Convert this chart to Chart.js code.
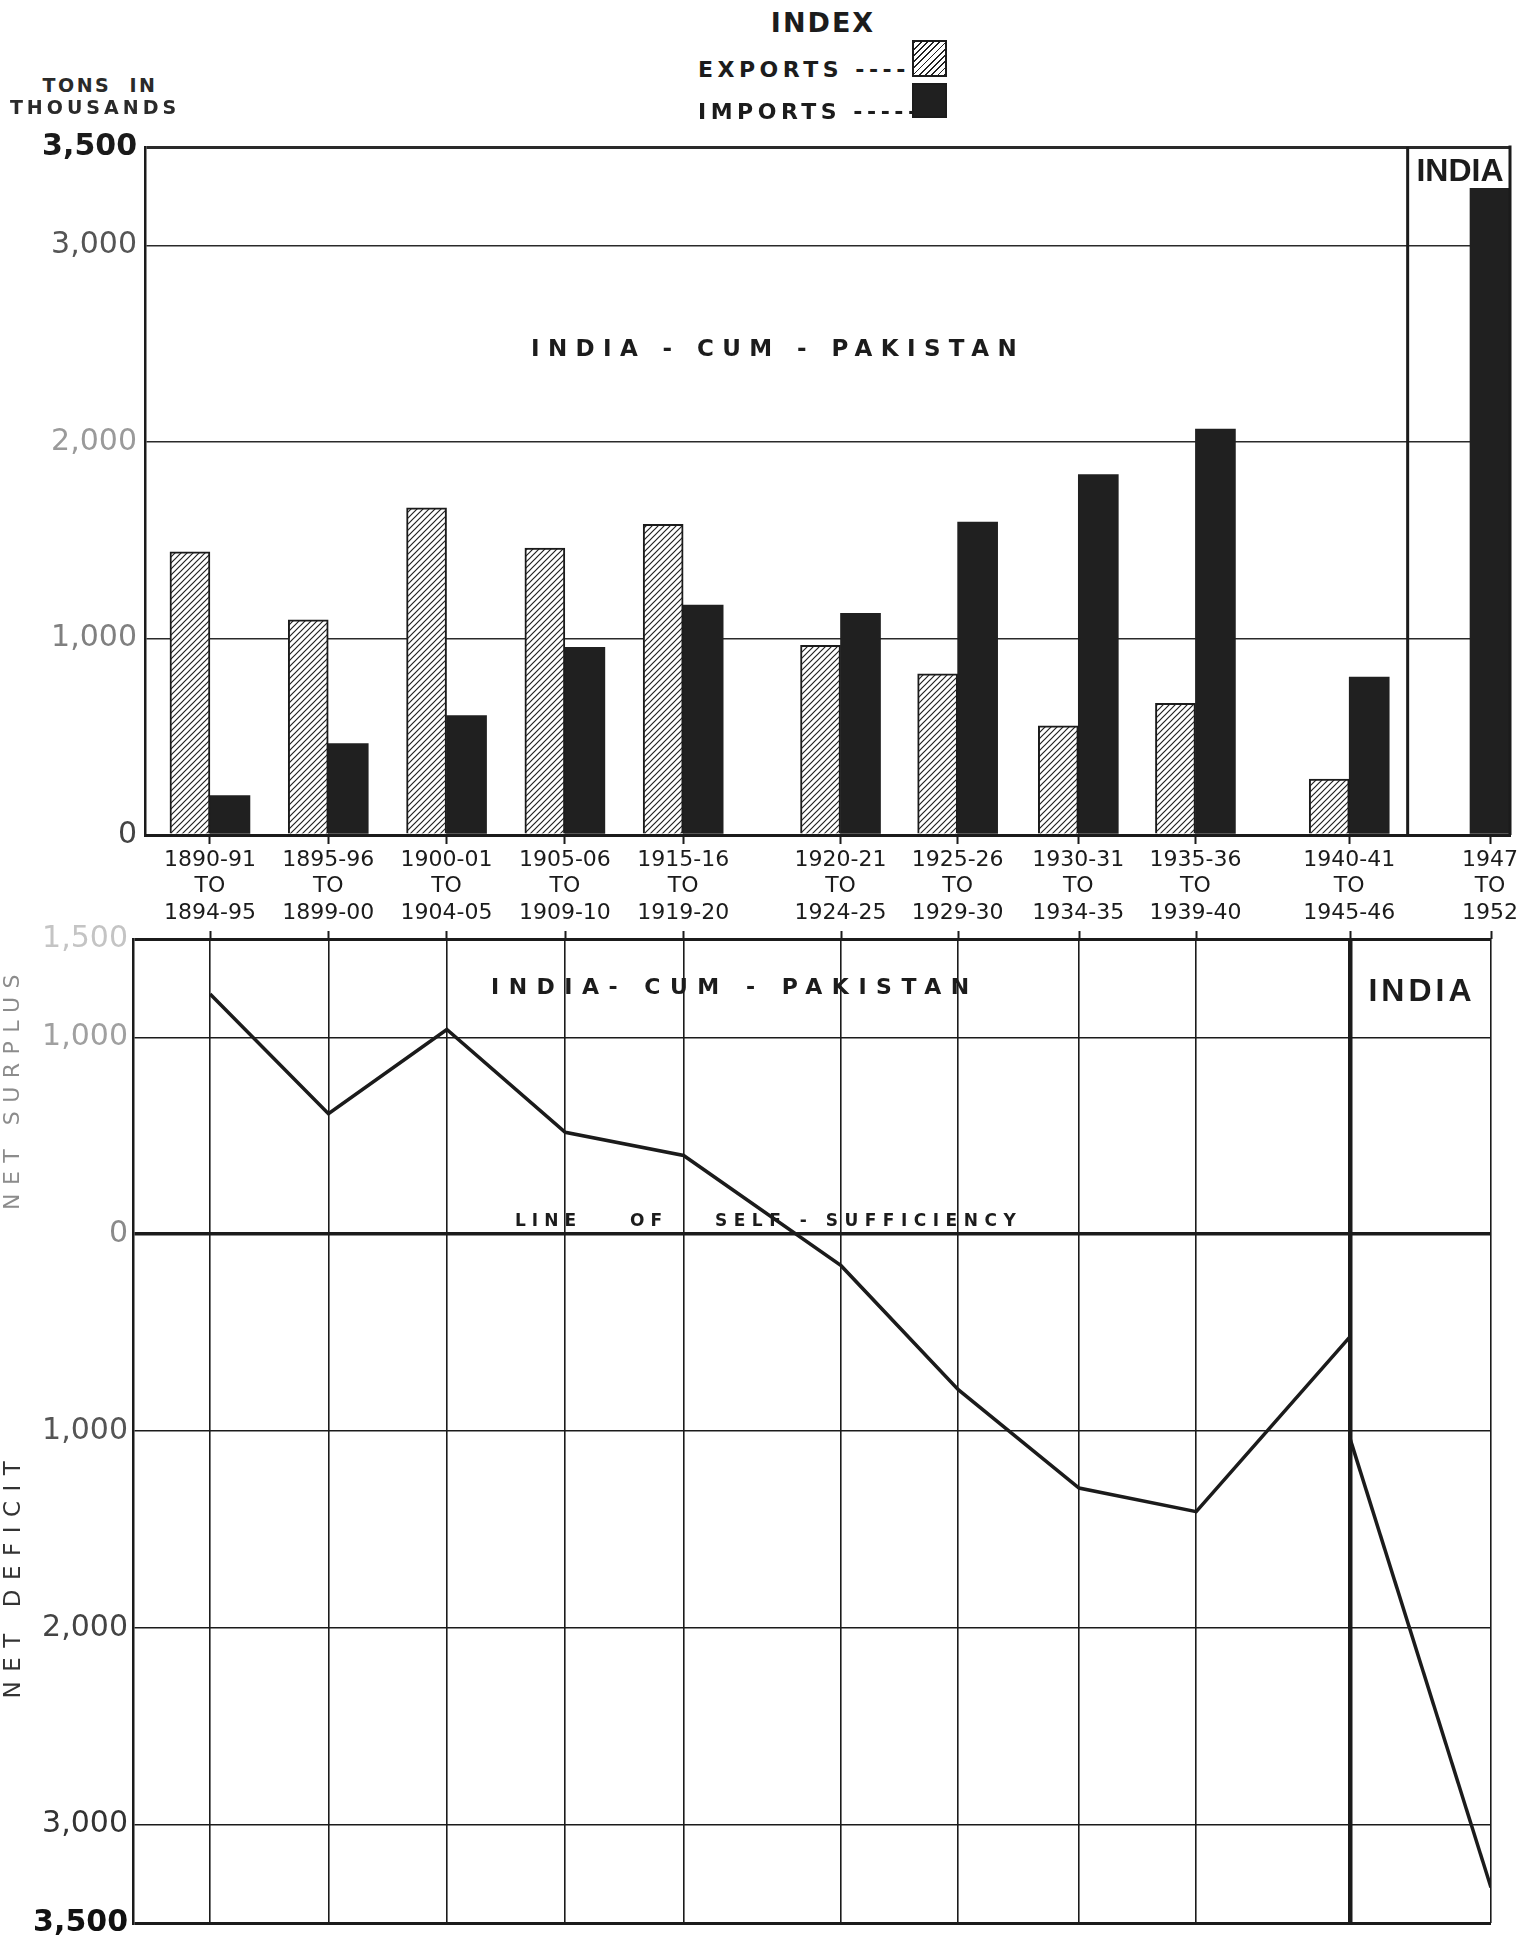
<!DOCTYPE html>
<html>
<head>
<meta charset="utf-8">
<title>Foodgrains: exports, imports and net balance</title>
<script src="https://cdn.jsdelivr.net/npm/chart.js@4.4.1/dist/chart.umd.min.js"></script>
<style>
  html, body { margin: 0; padding: 0; background: #fff; }
  #page { position: relative; width: 1539px; height: 1946px; overflow: hidden; background: #fff; color: #1c1c1c; font-family: "DejaVu Sans", sans-serif; }
  #barCanvas { position: absolute; left: 0; top: 110px; }
  #netCanvas { position: absolute; left: 0; top: 915px; }
  .t { position: absolute; white-space: nowrap; line-height: 1; }
  .c { transform: translate(-50%, -50%); }
  .l { transform: translate(0, -50%); }
  .r { transform: translate(-50%, -50%) rotate(-90deg); }
  .sw { position: absolute; box-sizing: border-box; border: 2px solid #1c1c1c; }
</style>
</head>
<body>
<div id="page">
  <canvas id="barCanvas" width="1539" height="830"></canvas>
  <canvas id="netCanvas" width="1539" height="1031"></canvas>

  <!-- legend -->
  <div class="t c" style="left:823px;top:22px;font-weight:bold;font-size:27px;letter-spacing:2px;">INDEX</div>
  <div class="t l" style="left:698px;top:70px;font-weight:bold;font-size:22px;letter-spacing:4.5px;">EXPORTS ----</div>
  <div class="t l" style="left:698px;top:112px;font-weight:bold;font-size:22px;letter-spacing:4.5px;">IMPORTS -----</div>
  <div class="sw" style="left:912px;top:40px;width:35px;height:37px;background:repeating-linear-gradient(135deg,#222 0 1.3px,#fff 1.3px 4.4px);"></div>
  <div class="sw" style="left:912px;top:83px;width:35px;height:35px;background:#202020;"></div>

  <!-- unit -->
  <div class="t c" style="left:100px;top:85px;font-weight:bold;font-size:19px;letter-spacing:2.5px;color:#2a2a2a;">TONS&nbsp; IN</div>
  <div class="t c" style="left:95px;top:107px;font-weight:bold;font-size:19px;letter-spacing:4px;color:#2a2a2a;">THOUSANDS</div>

  <!-- bar chart notes -->
  <div class="t c" style="left:778px;top:348px;font-weight:bold;font-size:23px;letter-spacing:8.4px;">INDIA - CUM - PAKISTAN</div>
  <div class="t c" style="left:1460px;top:170px;font-family:'Liberation Sans',sans-serif;font-weight:bold;font-size:32px;">INDIA</div>

  <!-- net balance notes -->
  <div class="t l" style="left:491px;top:987px;font-weight:bold;font-size:22px;letter-spacing:9.5px;">INDIA- CUM - PAKISTAN</div>
  <div class="t c" style="left:1422px;top:990px;font-family:'Liberation Sans',sans-serif;font-weight:bold;font-size:32px;letter-spacing:4px;">INDIA</div>
  <div class="t l" style="left:515px;top:1220px;font-weight:bold;font-size:17px;letter-spacing:6px;">LINE</div>
  <div class="t l" style="left:630px;top:1220px;font-weight:bold;font-size:17px;letter-spacing:6px;">OF</div>
  <div class="t l" style="left:715px;top:1220px;font-weight:bold;font-size:17px;letter-spacing:6.5px;">SELF - SUFFICIENCY</div>
  <div class="t r" style="left:12px;top:1088px;font-size:22px;letter-spacing:8.5px;color:#8c8c8c;">NET SURPLUS</div>
  <div class="t r" style="left:12px;top:1575px;font-size:23px;letter-spacing:9.5px;color:#333;">NET DEFICIT</div>
</div>

<script>
// periods (five-year averages, thousand tons)
const periodFrom = ['1890-91', '1895-96', '1900-01', '1905-06', '1915-16', '1920-21', '1925-26', '1930-31', '1935-36', '1940-41', '1947'];
const periodTo = ['1894-95', '1899-00', '1904-05', '1909-10', '1919-20', '1924-25', '1929-30', '1934-35', '1939-40', '1945-46', '1952'];
// where each period sits on the (uneven) time axis, in period steps
const slots = [0, 1, 2, 3, 4, 5.33, 6.32, 7.34, 8.33, 9.63, 10.82];

const exportsK = [1440, 1095, 1665, 1460, 1580, 965, 820, 555, 670, 285, null];
const importsK = [200, 465, 608, 955, 1170, 1128, 1592, 1833, 2065, 803, 3290];

// net surplus (+) / net deficit (-)
const netCumPak = [1220, 612, 1040, 518, 400, -160, -790, -1290, -1410, -520];
const netIndia = [-1040, -3320]; // India alone, last two periods

const barTicks = [0, 1000, 2000, 3000, 3500];
const netTicks = [1500, 1000, 0, -1000, -2000, -3000, -3500];

const ink = '#1b1b1b';
const splitAt = 10.124; // India-cum-Pakistan | India divider on the bar chart
const indiaStart = slots.length - netIndia.length;

const tv = c => (c.tick ? c.tick.value : null);

function makeHatch() {
    const c = document.createElement('canvas');
    c.width = 6; c.height = 6;
    const g = c.getContext('2d');
    g.fillStyle = '#fff';
    g.fillRect(0, 0, 6, 6);
    g.strokeStyle = '#222';
    g.lineWidth = 1.2;
    g.beginPath();
    g.moveTo(0, 6); g.lineTo(6, 0);
    g.moveTo(-1, 1); g.lineTo(1, -1);
    g.moveTo(5, 7); g.lineTo(7, 5);
    g.stroke();
    return g.createPattern(c, 'repeat');
}

const topFrame = {
    id: 'topFrame',
    afterDatasetsDraw(chart) {
        const { ctx, chartArea: a, scales: { x } } = chart;
        const sx = x.getPixelForValue(splitAt);
        ctx.save();
        ctx.strokeStyle = ink;
        ctx.lineWidth = 3;
        ctx.beginPath();
        ctx.moveTo(sx, a.top); ctx.lineTo(sx, a.bottom);
        ctx.moveTo(a.right, a.top - 1.5); ctx.lineTo(a.right, a.bottom);
        ctx.stroke();
        ctx.restore();
    }
};

const barColors = { 3500: '#1a1a1a', 3000: '#555', 2000: '#9a9a9a', 1000: '#808080', 0: '#444' };
const netColors = { 1500: '#c4c4c4', 1000: '#a0a0a0', 0: '#8a8a8a', '-1000': '#555', '-2000': '#444', '-3000': '#333', '-3500': '#111' };

new Chart(document.getElementById('barCanvas'), {
    type: 'bar',
    data: {
        datasets: [
            {
                label: 'EXPORTS',
                data: slots.map((s, i) => ({ x: s, y: exportsK[i] })),
                backgroundColor: makeHatch(),
                borderColor: ink,
                borderWidth: 2,
                borderSkipped: 'start'
            },
            {
                label: 'IMPORTS',
                data: slots.map((s, i) => ({ x: s, y: importsK[i] })),
                backgroundColor: '#202020',
                borderWidth: 0
            }
        ]
    },
    options: {
        responsive: false,
        animation: false,
        layout: { padding: { top: 37, right: 29, left: 0, bottom: 0 } },
        datasets: { bar: { barThickness: 40, skipNull: true } },
        plugins: { legend: { display: false }, tooltip: { enabled: false } },
        scales: {
            x: {
                type: 'linear', min: -0.549, max: 10.989, offset: false,
                afterBuildTicks: s => { s.ticks = slots.map(v => ({ value: v })); },
                afterFit: s => { s.height = 105; },
                ticks: {
                    autoSkip: false, maxRotation: 0, minRotation: 0, padding: 3, color: ink,
                    font: { family: 'DejaVu Sans', size: 22, lineHeight: 1.2 },
                    callback: (v, i) => [periodFrom[i], 'TO', periodTo[i]]
                },
                grid: { offset: false, drawOnChartArea: false, drawTicks: true, tickLength: 9, tickColor: ink, tickWidth: 2 },
                border: { display: true, color: ink, width: 3 }
            },
            y: {
                min: 0, max: 3500,
                afterBuildTicks: s => { s.ticks = barTicks.map(v => ({ value: v })); },
                afterFit: s => { s.width = 145; },
                ticks: {
                    padding: 8,
                    callback: v => v.toLocaleString('en-US'),
                    color: c => barColors[tv(c)] || '#555',
                    font: c => ({ family: 'DejaVu Sans', size: 30, weight: tv(c) === 3500 ? 'bold' : 'normal' })
                },
                grid: { color: '#2a2a2a', lineWidth: c => (tv(c) === 3500 || tv(c) === 0) ? 3 : 1.4, drawTicks: false },
                border: { display: true, color: ink, width: 2.5 }
            }
        }
    },
    plugins: [topFrame]
});

new Chart(document.getElementById('netCanvas'), {
    type: 'line',
    data: {
        datasets: [
            {
                label: 'India-cum-Pakistan',
                data: netCumPak.map((v, i) => ({ x: slots[i], y: v })),
                borderColor: ink, borderWidth: 3.5, pointRadius: 0, tension: 0
            },
            {
                label: 'India',
                data: netIndia.map((v, i) => ({ x: slots[indiaStart + i], y: v })),
                borderColor: ink, borderWidth: 3.5, pointRadius: 0, tension: 0
            }
        ]
    },
    options: {
        responsive: false,
        animation: false,
        layout: { padding: { top: 16, right: 48, left: 0, bottom: 12 } },
        plugins: { legend: { display: false }, tooltip: { enabled: false } },
        scales: {
            x: {
                type: 'linear', min: -0.651, max: 10.82, offset: false,
                afterBuildTicks: s => { s.ticks = slots.map(v => ({ value: v })); },
                afterFit: s => { s.height = 0; },
                ticks: { display: false },
                grid: { offset: false, color: ink, lineWidth: c => tv(c) === slots[indiaStart] ? 4.5 : 1.6, drawTicks: false },
                border: { display: false }
            },
            xTop: {
                type: 'linear', position: 'top', min: -0.651, max: 10.82, offset: false,
                afterBuildTicks: s => { s.ticks = slots.map(v => ({ value: v })); },
                afterFit: s => { s.height = 8; },
                ticks: { display: false },
                grid: { offset: false, drawOnChartArea: false, drawTicks: true, tickLength: 8, tickColor: ink, tickWidth: 2 },
                border: { display: false }
            },
            y: {
                min: -3500, max: 1500,
                afterBuildTicks: s => { s.ticks = netTicks.map(v => ({ value: v })); },
                afterFit: s => { s.width = 133; },
                ticks: {
                    padding: 5,
                    callback: v => Math.abs(v).toLocaleString('en-US'),
                    color: c => netColors[tv(c)] || '#555',
                    font: c => ({ family: 'DejaVu Sans', size: 30, weight: tv(c) === -3500 ? 'bold' : 'normal' })
                },
                grid: {
                    color: ink,
                    lineWidth: c => tv(c) === 0 ? 3.5 : (tv(c) === 1500 || tv(c) === -3500) ? 3 : 1.6,
                    drawTicks: false
                },
                border: { display: true, color: ink, width: 2.5 }
            }
        }
    }
});
</script>
</body>
</html>
